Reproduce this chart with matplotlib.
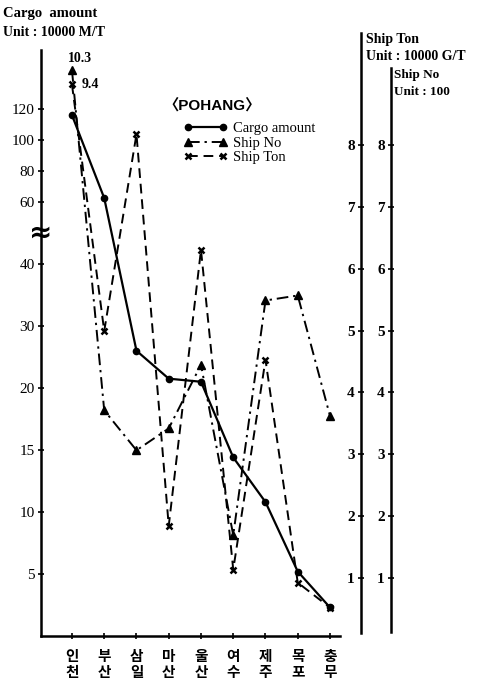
import numpy as np
import matplotlib.pyplot as plt

# ports (two-line Korean labels)
ports = ["인\n천", "부\n산", "삼\n일", "마\n산", "울\n산", "여\n수", "제\n주", "목\n포", "충\n무"]

# Cargo amount, unit 10000 M/T
cargo = [116, 62.5, 26, 21.5, 21, 14.4, 10.8, 5.2, 2.3]
# Ship No, unit 100
ship_no = [10.3, 3.68, 3.04, 3.39, 4.41, 1.68, 5.44, 5.52, 3.59]
# Ship Ton, unit 10000 G/T
ship_ton = [9.4, 4.95, 8.16, 1.83, 6.25, 1.13, 4.49, 0.92, 0.52]

# broken left scale: tick values and their evenly spaced slots
cargo_ticks = [5, 10, 15, 20, 30, 40, 60, 80, 100, 120]
cargo_knots = [0, 5, 10, 15, 20, 30, 40, 60, 120, 200]
cargo_slots = [0, 1, 2, 3, 4, 5, 6, 7, 8.5, 10.5]

# right scale is linear to 8, values above it are squeezed in
ship_knots = [0, 8, 9.4, 10.3, 13]
ship_slots = [0, 8, 8.9, 9.13, 9.8]
ship_ticks = [1, 2, 3, 4, 5, 6, 7, 8]

W, H = 493, 688
SERIF = ["Liberation Serif", "Noto Sans CJK KR", "DejaVu Sans"]
KOREAN = ["Noto Sans CJK KR", "DejaVu Sans"]


def fx(px):
    return px / W


def fy(py):
    return 1 - py / H


def main() -> None:
    plt.rcParams["font.family"] = SERIF
    plt.rcParams["font.weight"] = "bold"
    fig = plt.figure(figsize=(W / 100, H / 100), dpi=100)

    # main axes: left spine at x=41, bottom at y=636, top at y=50
    ax = fig.add_axes([fx(41), fy(636), fx(299), 586 / H])
    ax.set_yscale(
        "function",
        functions=(
            lambda v: np.interp(v, cargo_knots, cargo_slots),
            lambda p: np.interp(p, cargo_slots, cargo_knots),
        ),
    )
    ax.set_ylim(0, 158)
    ax.set_xlim(-0.96, 8.31)
    for s in ("top", "right"):
        ax.spines[s].set_visible(False)
    for s in ("left", "bottom"):
        ax.spines[s].set_linewidth(1.8)
    ax.set_yticks(cargo_ticks)
    ax.set_yticklabels([str(t) for t in cargo_ticks], fontsize=11, fontweight="normal")
    ax.yaxis.set_minor_locator(plt.NullLocator())
    ax.set_xticks(range(len(ports)))
    ax.set_xticklabels(ports, family=KOREAN, fontsize=10.5, fontweight="bold", linespacing=1.0)
    ax.tick_params(direction="inout", length=5, width=1.2, pad=2)
    ax.tick_params(axis="x", pad=6)
    ax.text(0, 50, "≈", transform=ax.get_yaxis_transform(), ha="center", va="center",
            fontsize=20, family="DejaVu Sans", fontweight="bold")

    x = np.arange(len(ports))
    l1, = ax.plot(x, cargo, color="black", lw=1.6, marker="o", ms=4.5,
                  mfc="black", label="Cargo amount", zorder=3)

    # ship series share the right-hand scale (0 at y=640 px, 61.9 px per unit)
    ax2 = ax.twinx()
    ax2.set_yscale(
        "function",
        functions=(
            lambda v: np.interp(v, ship_knots, ship_slots),
            lambda p: np.interp(p, ship_slots, ship_knots),
        ),
    )
    ax2.set_ylim(0.065, 11.6)
    ax2.axis("off")
    l2, = ax2.plot(x, ship_no, color="black", lw=1.4, ls=(0, (6, 2.5, 1.2, 2.5)),
                   marker="^", ms=5.5, label="Ship No")
    l3, = ax2.plot(x, ship_ton, color="black", lw=1.4, ls=(0, (5, 3)),
                   marker="x", ms=5, mew=1.8, label="Ship Ton")
    ax2.annotate("10.3", (0, ship_no[0]), xytext=(6, 4), textcoords="offset points",
                 ha="center", va="bottom", fontsize=10)
    ax2.annotate("9.4", (0, ship_ton[0]), xytext=(7, 0), textcoords="offset points",
                 ha="left", va="center", fontsize=10)

    ax.legend(handles=[l1, l2, l3], loc="upper left", bbox_to_anchor=(fx(178), fy(116)),
              bbox_transform=fig.transFigure, frameon=False, numpoints=2,
              handlelength=3.0, handletextpad=0.4, labelspacing=0.1,
              prop={"size": 10.5, "weight": "normal"}, borderaxespad=0)

    # the two right-hand scales
    for x0, y_bot, y_top in [(361, 633, 33), (391, 632, 68)]:
        lo = (640 - y_bot) / 61.9
        hi = (640 - y_top) / 61.9
        axr = fig.add_axes([fx(x0), fy(y_bot), 0.001, (y_bot - y_top) / H])
        axr.patch.set_visible(False)
        axr.set_ylim(lo, hi)
        for s in ("top", "right", "bottom"):
            axr.spines[s].set_visible(False)
        axr.spines["left"].set_linewidth(1.8)
        axr.set_xticks([])
        axr.set_yticks(ship_ticks)
        axr.set_yticklabels([str(t) for t in ship_ticks], fontsize=11, fontweight="bold")
        axr.tick_params(direction="inout", length=5, width=1.2, pad=2)

    fig.text(fx(3), fy(14), "Cargo  amount", fontsize=10.5, va="center")
    fig.text(fx(3), fy(33), "Unit : 10000 M/T", fontsize=10, va="center")
    fig.text(fx(366), fy(40), "Ship Ton", fontsize=10, va="center")
    fig.text(fx(366), fy(56), "Unit : 10000 G/T", fontsize=10, va="center")
    fig.text(fx(394), fy(75), "Ship No", fontsize=9.5, va="center")
    fig.text(fx(394), fy(92), "Unit : 100", fontsize=9.5, va="center")
    fig.text(fx(212), fy(105), "〈POHANG〉", fontsize=11, ha="center", va="center",
             family=["Liberation Sans", "Noto Sans CJK KR"])

    fig.savefig("out.png", dpi=100)


if __name__ == "__main__":
    main()
